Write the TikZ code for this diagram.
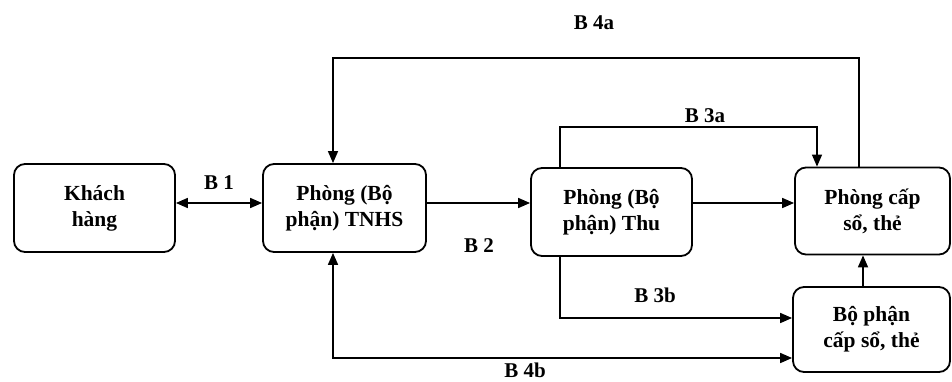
\documentclass[tikz,border=0pt]{standalone}
\usepackage{fontspec}
\setmainfont{Liberation Serif}
\usetikzlibrary{arrows.meta}
\begin{document}
\begin{tikzpicture}[x=1pt,y=-1pt,
  box/.style={draw,line width=1.8pt,rounded corners=11pt,align=center,
    inner sep=0pt,font=\fontsize{21.5}{26}\selectfont\bfseries},
  lab/.style={font=\fontsize{21}{26}\selectfont\bfseries,inner sep=0pt},
  conn/.style={line width=1.7pt,-{Triangle[length=12pt,width=10pt]}},
  conn2/.style={line width=1.7pt,{Triangle[length=12pt,width=10pt]}-{Triangle[length=12pt,width=10pt]}},
  thin/.style={line width=1.4pt,-{Triangle[length=12pt,width=10pt]}}]
\useasboundingbox (0,0) rectangle (952,382);
% boxes
\node[box,minimum width=161pt,minimum height=88pt] (kh) at (94.5,208) {Khách\\hàng};
\node[box,minimum width=163pt,minimum height=88pt] (tn) at (344.5,208) {Phòng (Bộ\\phận) TNHS};
\node[box,minimum width=161pt,minimum height=88pt] (thu) at (611.5,212) {Phòng (Bộ\\phận) Thu};
\node[box,minimum width=155pt,minimum height=87pt] (pc) at (872.5,211) {Phòng cấp\\sổ, thẻ};
\node[box,minimum width=157pt,minimum height=85pt] (bp) at (871.5,329.5) {Bộ phận\\cấp sổ, thẻ};
% helper coordinates
\coordinate (r) at (0,203);
\coordinate (a3) at (560,127);
\coordinate (c3) at (817,127);
\coordinate (a4) at (859,58);
\coordinate (c4) at (333,58);
\coordinate (v) at (863,0);
\coordinate (a3b) at (560,318);
\coordinate (a4b) at (333,358);
% connectors
\draw[conn2] (kh.east |- r) -- (tn.west |- r);
\draw[conn] (tn.east |- r) -- (thu.west |- r);
\draw[conn] (thu.east |- r) -- (pc.west |- r);
\draw[thin] (thu.north -| a3) -- (a3) -- (c3) -- (pc.north -| c3);
\draw[thin] (pc.north -| a4) -- (a4) -- (c4) -- (tn.north -| c4);
\draw[conn] (bp.north -| v) -- (pc.south -| v);
\draw[conn] (thu.south -| a3b) -- (a3b) -- (bp.west |- a3b);
\draw[conn2] (tn.south -| a4b) -- (a4b) -- (bp.west |- a4b);
% labels
\node[lab] (l1) at (219,183) {B 1};
\node[lab] (l2) at (479,246) {B 2};
\node[lab] (l3a) at (705,116) {B 3a};
\node[lab] (l3b) at (655,295) {B 3b};
\node[lab] (l4a) at (594,23) {B 4a};
\node[lab] (l4b) at (525,370) {B 4b};
\end{tikzpicture}
\end{document}
